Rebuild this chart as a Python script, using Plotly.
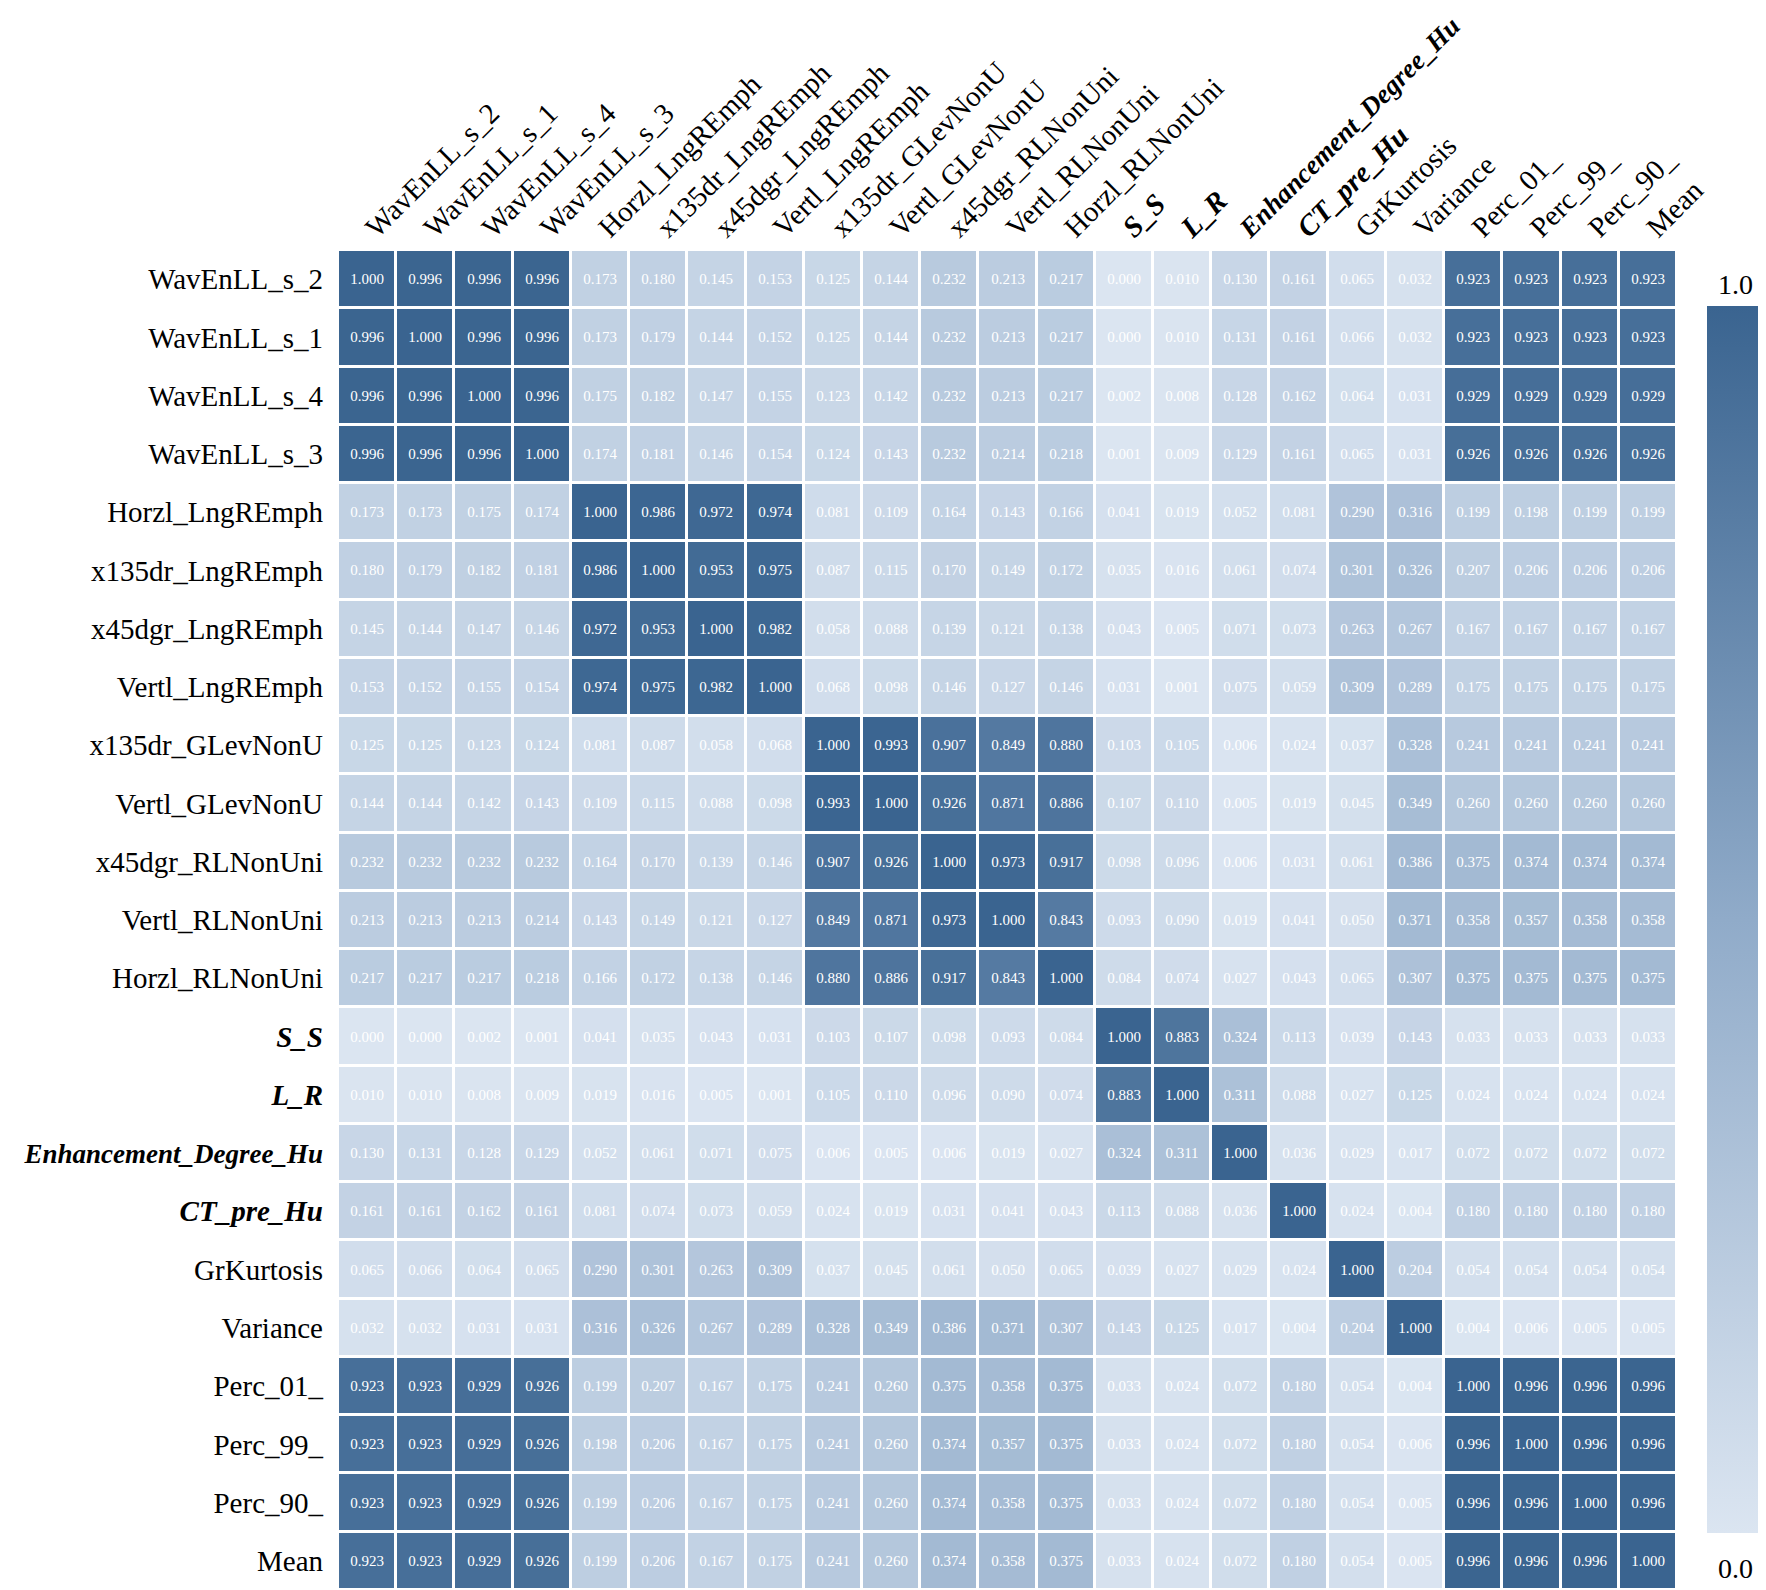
import plotly.graph_objects as go

features = ['WavEnLL_s_2', 'WavEnLL_s_1', 'WavEnLL_s_4', 'WavEnLL_s_3',
            'Horzl_LngREmph', 'x135dr_LngREmph', 'x45dgr_LngREmph', 'Vertl_LngREmph',
            'x135dr_GLevNonU', 'Vertl_GLevNonU', 'x45dgr_RLNonUni', 'Vertl_RLNonUni',
            'Horzl_RLNonUni', 'S_S', 'L_R', 'Enhancement_Degree_Hu', 'CT_pre_Hu',
            'GrKurtosis', 'Variance', 'Perc_01_', 'Perc_99_', 'Perc_90_', 'Mean']
bold_features = ['S_S', 'L_R', 'Enhancement_Degree_Hu', 'CT_pre_Hu']

corr = [
    [1.000, 0.996, 0.996, 0.996, 0.173, 0.180, 0.145, 0.153, 0.125, 0.144, 0.232, 0.213, 0.217, 0.000, 0.010, 0.130, 0.161, 0.065, 0.032, 0.923, 0.923, 0.923, 0.923],
    [0.996, 1.000, 0.996, 0.996, 0.173, 0.179, 0.144, 0.152, 0.125, 0.144, 0.232, 0.213, 0.217, 0.000, 0.010, 0.131, 0.161, 0.066, 0.032, 0.923, 0.923, 0.923, 0.923],
    [0.996, 0.996, 1.000, 0.996, 0.175, 0.182, 0.147, 0.155, 0.123, 0.142, 0.232, 0.213, 0.217, 0.002, 0.008, 0.128, 0.162, 0.064, 0.031, 0.929, 0.929, 0.929, 0.929],
    [0.996, 0.996, 0.996, 1.000, 0.174, 0.181, 0.146, 0.154, 0.124, 0.143, 0.232, 0.214, 0.218, 0.001, 0.009, 0.129, 0.161, 0.065, 0.031, 0.926, 0.926, 0.926, 0.926],
    [0.173, 0.173, 0.175, 0.174, 1.000, 0.986, 0.972, 0.974, 0.081, 0.109, 0.164, 0.143, 0.166, 0.041, 0.019, 0.052, 0.081, 0.290, 0.316, 0.199, 0.198, 0.199, 0.199],
    [0.180, 0.179, 0.182, 0.181, 0.986, 1.000, 0.953, 0.975, 0.087, 0.115, 0.170, 0.149, 0.172, 0.035, 0.016, 0.061, 0.074, 0.301, 0.326, 0.207, 0.206, 0.206, 0.206],
    [0.145, 0.144, 0.147, 0.146, 0.972, 0.953, 1.000, 0.982, 0.058, 0.088, 0.139, 0.121, 0.138, 0.043, 0.005, 0.071, 0.073, 0.263, 0.267, 0.167, 0.167, 0.167, 0.167],
    [0.153, 0.152, 0.155, 0.154, 0.974, 0.975, 0.982, 1.000, 0.068, 0.098, 0.146, 0.127, 0.146, 0.031, 0.001, 0.075, 0.059, 0.309, 0.289, 0.175, 0.175, 0.175, 0.175],
    [0.125, 0.125, 0.123, 0.124, 0.081, 0.087, 0.058, 0.068, 1.000, 0.993, 0.907, 0.849, 0.880, 0.103, 0.105, 0.006, 0.024, 0.037, 0.328, 0.241, 0.241, 0.241, 0.241],
    [0.144, 0.144, 0.142, 0.143, 0.109, 0.115, 0.088, 0.098, 0.993, 1.000, 0.926, 0.871, 0.886, 0.107, 0.110, 0.005, 0.019, 0.045, 0.349, 0.260, 0.260, 0.260, 0.260],
    [0.232, 0.232, 0.232, 0.232, 0.164, 0.170, 0.139, 0.146, 0.907, 0.926, 1.000, 0.973, 0.917, 0.098, 0.096, 0.006, 0.031, 0.061, 0.386, 0.375, 0.374, 0.374, 0.374],
    [0.213, 0.213, 0.213, 0.214, 0.143, 0.149, 0.121, 0.127, 0.849, 0.871, 0.973, 1.000, 0.843, 0.093, 0.090, 0.019, 0.041, 0.050, 0.371, 0.358, 0.357, 0.358, 0.358],
    [0.217, 0.217, 0.217, 0.218, 0.166, 0.172, 0.138, 0.146, 0.880, 0.886, 0.917, 0.843, 1.000, 0.084, 0.074, 0.027, 0.043, 0.065, 0.307, 0.375, 0.375, 0.375, 0.375],
    [0.000, 0.000, 0.002, 0.001, 0.041, 0.035, 0.043, 0.031, 0.103, 0.107, 0.098, 0.093, 0.084, 1.000, 0.883, 0.324, 0.113, 0.039, 0.143, 0.033, 0.033, 0.033, 0.033],
    [0.010, 0.010, 0.008, 0.009, 0.019, 0.016, 0.005, 0.001, 0.105, 0.110, 0.096, 0.090, 0.074, 0.883, 1.000, 0.311, 0.088, 0.027, 0.125, 0.024, 0.024, 0.024, 0.024],
    [0.130, 0.131, 0.128, 0.129, 0.052, 0.061, 0.071, 0.075, 0.006, 0.005, 0.006, 0.019, 0.027, 0.324, 0.311, 1.000, 0.036, 0.029, 0.017, 0.072, 0.072, 0.072, 0.072],
    [0.161, 0.161, 0.162, 0.161, 0.081, 0.074, 0.073, 0.059, 0.024, 0.019, 0.031, 0.041, 0.043, 0.113, 0.088, 0.036, 1.000, 0.024, 0.004, 0.180, 0.180, 0.180, 0.180],
    [0.065, 0.066, 0.064, 0.065, 0.290, 0.301, 0.263, 0.309, 0.037, 0.045, 0.061, 0.050, 0.065, 0.039, 0.027, 0.029, 0.024, 1.000, 0.204, 0.054, 0.054, 0.054, 0.054],
    [0.032, 0.032, 0.031, 0.031, 0.316, 0.326, 0.267, 0.289, 0.328, 0.349, 0.386, 0.371, 0.307, 0.143, 0.125, 0.017, 0.004, 0.204, 1.000, 0.004, 0.006, 0.005, 0.005],
    [0.923, 0.923, 0.929, 0.926, 0.199, 0.207, 0.167, 0.175, 0.241, 0.260, 0.375, 0.358, 0.375, 0.033, 0.024, 0.072, 0.180, 0.054, 0.004, 1.000, 0.996, 0.996, 0.996],
    [0.923, 0.923, 0.929, 0.926, 0.198, 0.206, 0.167, 0.175, 0.241, 0.260, 0.374, 0.357, 0.375, 0.033, 0.024, 0.072, 0.180, 0.054, 0.006, 0.996, 1.000, 0.996, 0.996],
    [0.923, 0.923, 0.929, 0.926, 0.199, 0.206, 0.167, 0.175, 0.241, 0.260, 0.374, 0.358, 0.375, 0.033, 0.024, 0.072, 0.180, 0.054, 0.005, 0.996, 0.996, 1.000, 0.996],
    [0.923, 0.923, 0.929, 0.926, 0.199, 0.206, 0.167, 0.175, 0.241, 0.260, 0.374, 0.358, 0.375, 0.033, 0.024, 0.072, 0.180, 0.054, 0.005, 0.996, 0.996, 0.996, 1.000],
]


def tick_label(name):
    if name not in bold_features:
        return name
    if name == 'Enhancement_Degree_Hu':
        # the longest label: a touch smaller so it stays inside the page
        return '<span style="font-size:27px"><b><i>%s</i></b></span>' % name
    return '<b><i>%s</i></b>' % name


labels = [tick_label(f) for f in features]
idx = list(range(len(features)))

fig = go.Figure(go.Heatmap(
    z=corr, x=idx, y=idx,
    zmin=0, zmax=1,
    colorscale=[[0, '#dbe5f1'], [0.5, '#90abc9'], [1, '#3a6490']],
    xgap=3, ygap=3,
    texttemplate='%{z:.3f}',
    textfont=dict(family='Liberation Serif', size=15, color='white'),
    colorbar=dict(x=1.0224, xanchor='left', y=0.5, yanchor='middle', len=0.916,
                  thickness=56, xpad=0, ypad=0,
                  outlinewidth=0, showticklabels=False, ticks=''),
))

fig.add_annotation(x=1.0436, y=0.974, xref='paper', yref='paper',
                   text='1.0', showarrow=False, xanchor='center', yanchor='middle',
                   font=dict(family='Liberation Serif', size=28, color='black'))
fig.add_annotation(x=1.0436, y=0.0157, xref='paper', yref='paper',
                   text='0.0', showarrow=False, xanchor='center', yanchor='middle',
                   font=dict(family='Liberation Serif', size=28, color='black'))

fig.update_xaxes(side='top', tickvals=idx, ticktext=labels, tickangle=-45,
                 showgrid=False, zeroline=False, ticks='', range=[-0.5, 22.5],
                 automargin=False)
fig.update_yaxes(tickvals=idx, ticktext=labels, autorange=False, range=[22.5, -0.5],
                 showgrid=False, zeroline=False, ticks='', ticklabelstandoff=14,
                 automargin=False)

# page body has an 8px margin, so the figure is 8px smaller than the window
fig.update_layout(
    width=1758, height=1582,
    margin=dict(l=330, r=89, t=242, b=0),
    paper_bgcolor='white', plot_bgcolor='white',
    font=dict(family='Liberation Serif', size=29, color='black'),
)

fig.write_html("out.html")
